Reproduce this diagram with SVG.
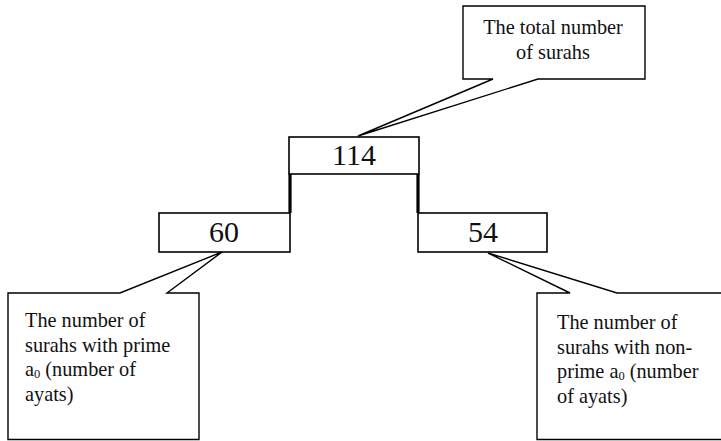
<svg xmlns="http://www.w3.org/2000/svg" width="721" height="441" viewBox="0 0 721 441">
<style>
.box{fill:#fff;stroke:#000;stroke-width:1.6}
.call{fill:#fff;stroke:#000;stroke-width:1.4;stroke-linejoin:miter}
.num{font-family:"Liberation Serif","Times New Roman",serif;font-size:30px;fill:#111;text-anchor:middle}
.lbl{font-family:"Liberation Serif","Times New Roman",serif;font-size:20.3px;fill:#111}
.sub{font-size:12.5px}
.conn{stroke:#000;stroke-width:3.2;fill:none}
</style>
<rect width="721" height="441" fill="#fff"/>
<g id="connectors">
<line class="conn" x1="290" y1="174" x2="290" y2="213"/>
<line class="conn" x1="418" y1="174" x2="418" y2="213"/>
</g>
<g id="n114">
<rect class="box" x="289" y="137" width="130" height="37"/>
<text class="num" x="354" y="165">114</text>
</g>
<g id="n60">
<rect class="box" x="159" y="213" width="131" height="39"/>
<text class="num" x="224" y="242">60</text>
</g>
<g id="n54">
<rect class="box" x="418" y="213" width="129" height="39"/>
<text class="num" x="483" y="242">54</text>
</g>
<g id="callout-total">
<polygon class="call" points="463,6 645,6 645,79 538,79 358,136 493,79 463,79"/>
<text class="lbl" x="553" y="34" text-anchor="middle">The total number</text>
<text class="lbl" x="553" y="59" text-anchor="middle">of surahs</text>
</g>
<g id="callout-prime">
<polygon class="call" points="8,293 120,293 222,252 167,293 199,293 199,439.5 8,439.5"/>
<text class="lbl" x="25" y="327">The number of</text>
<text class="lbl" x="25" y="352">surahs with prime</text>
<text class="lbl" x="25" y="376">a<tspan class="sub" dy="2">0</tspan><tspan dy="-2"> (number of</tspan></text>
<text class="lbl" x="25" y="401">ayats)</text>
</g>
<g id="callout-nonprime">
<polygon class="call" points="537,293 570,293 488,253 617,293 724,293 724,439.5 537,439.5"/>
<text class="lbl" x="557" y="329">The number of</text>
<text class="lbl" x="557" y="354">surahs with non-</text>
<text class="lbl" x="557" y="378">prime a<tspan class="sub" dy="2">0</tspan><tspan dy="-2"> (number</tspan></text>
<text class="lbl" x="557" y="403">of ayats)</text>
</g>
</svg>
